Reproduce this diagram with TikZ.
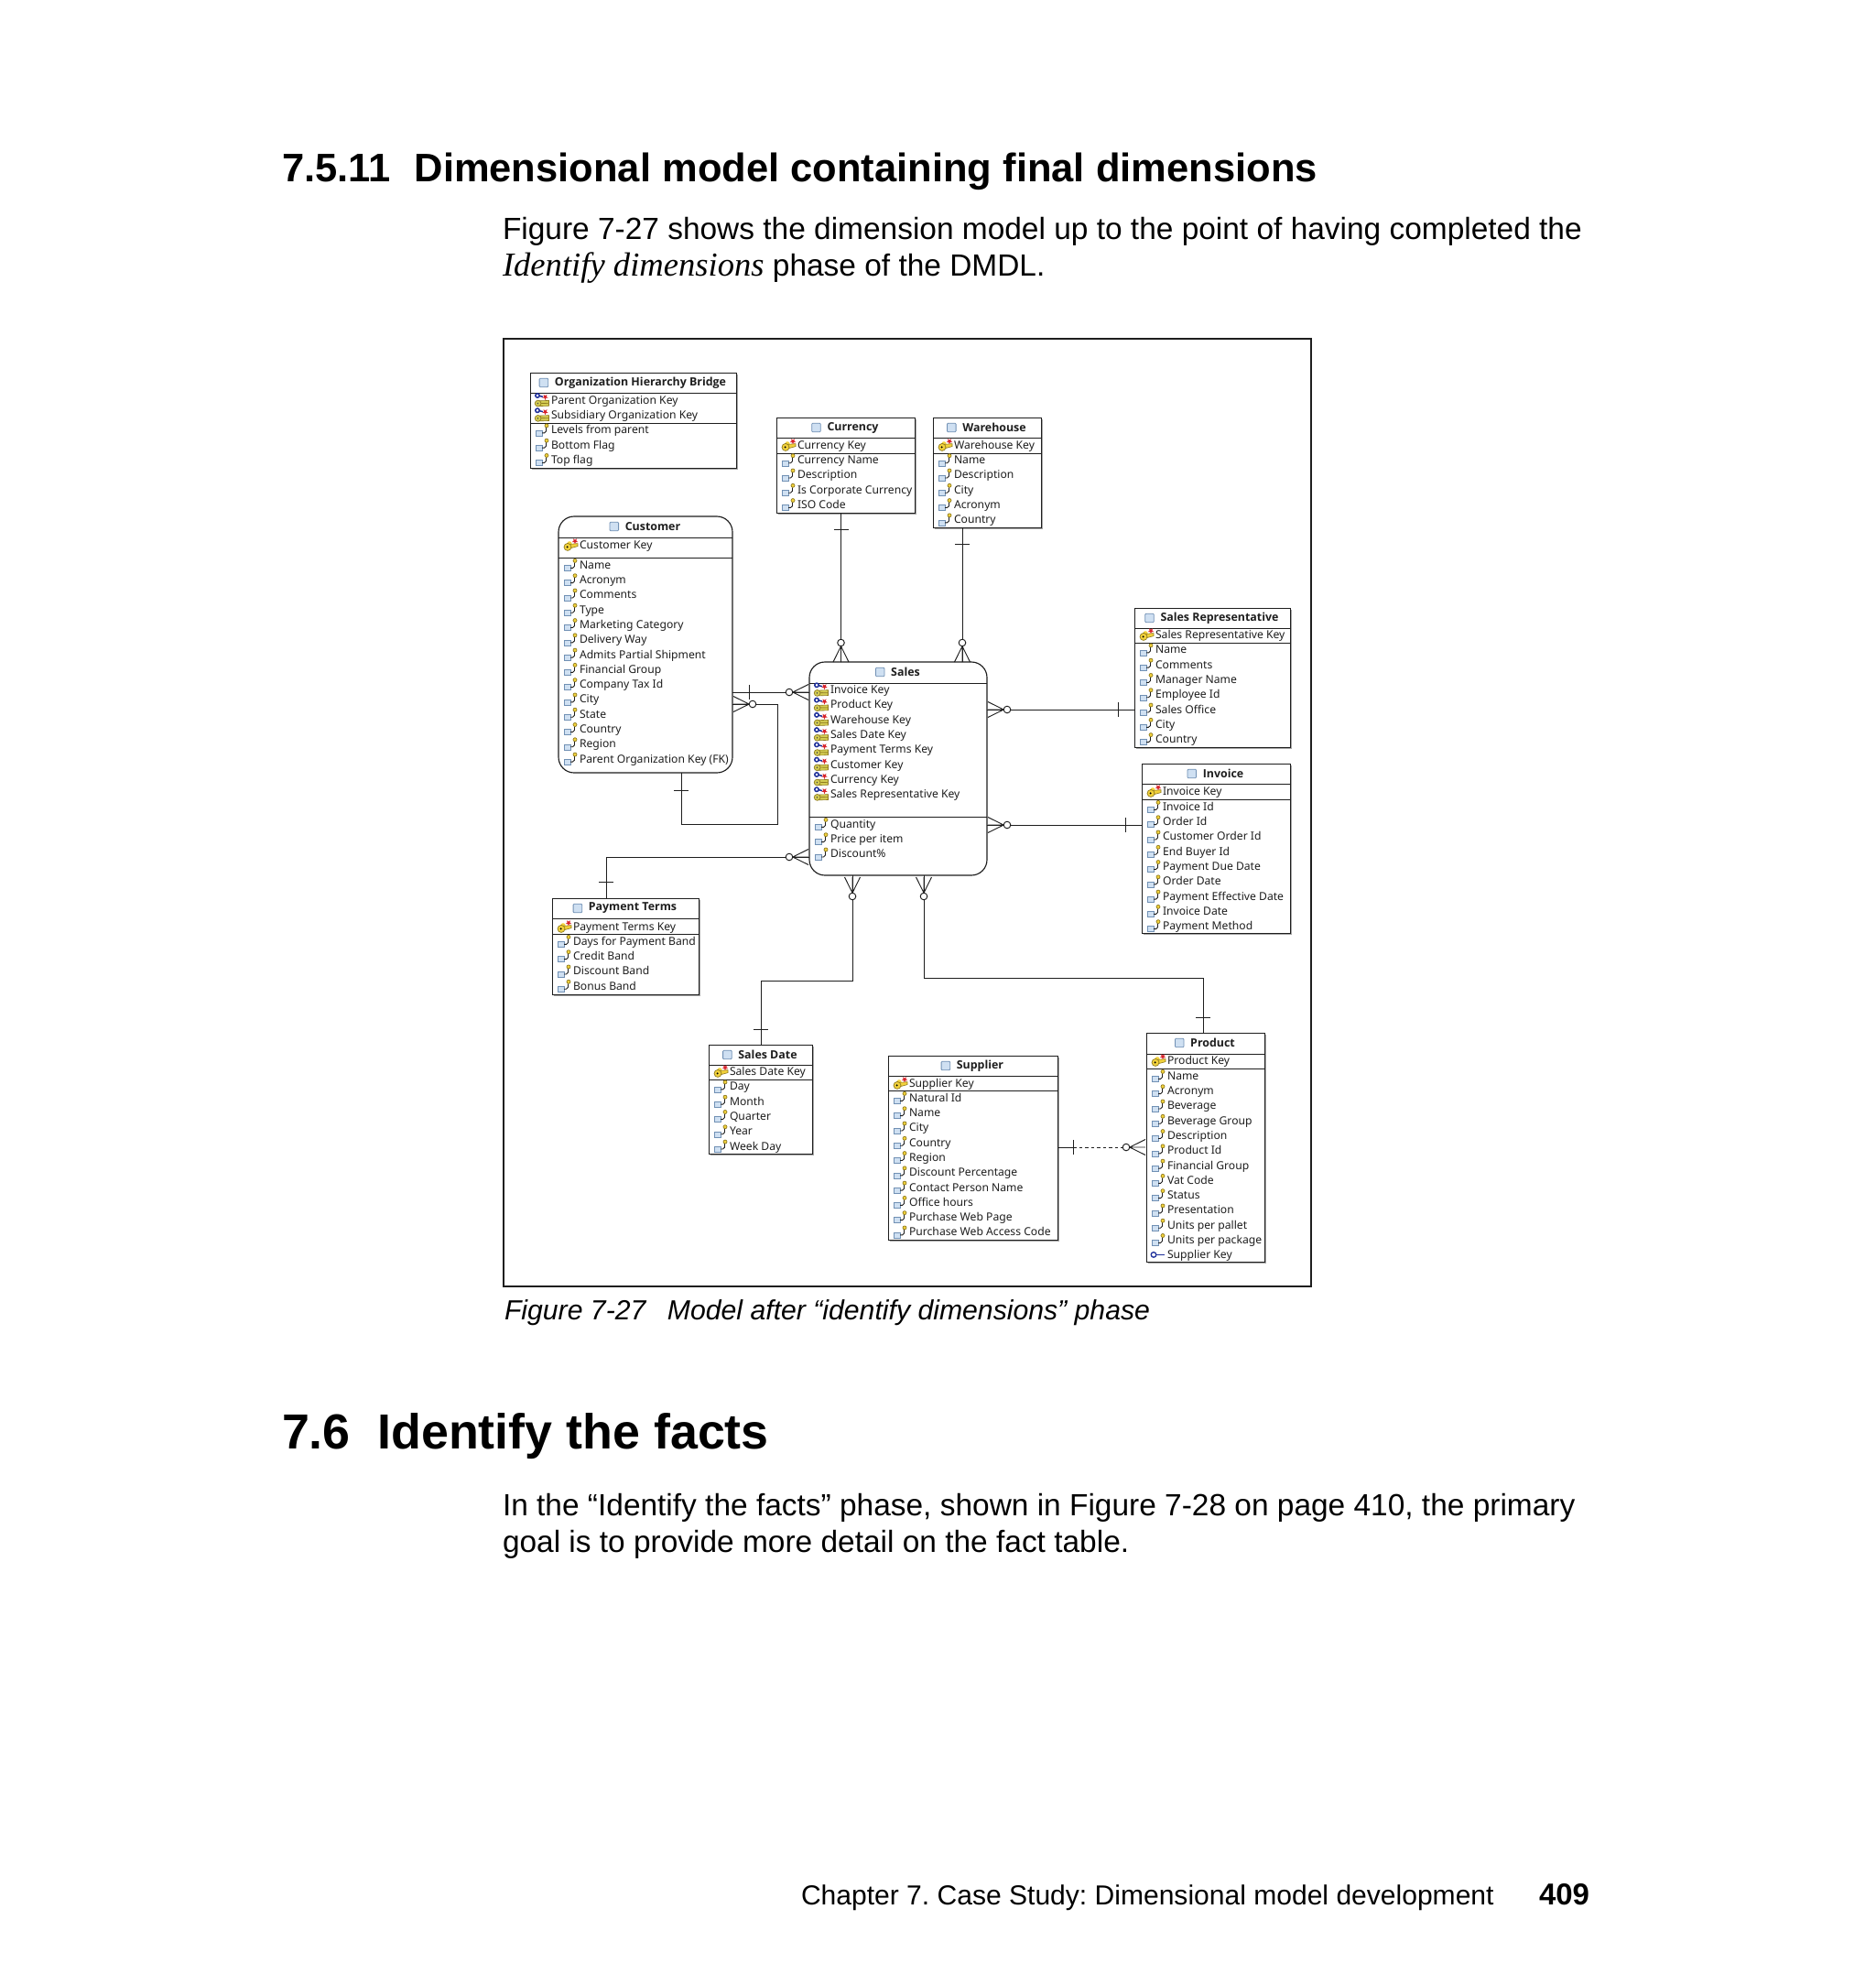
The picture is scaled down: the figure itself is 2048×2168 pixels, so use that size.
\documentclass[tikz,border=0pt]{standalone}
\usepackage{fontspec}
\usetikzlibrary{calc}
\setmainfont{Liberation Sans}
\newfontfamily\serifface{Liberation Serif}
\newfontfamily\tblface{Noto Sans}
\newfontfamily\tblbold{Open Sans}
\definecolor{ink}{HTML}{1E1E1E}
\definecolor{iconblue}{HTML}{CFE0F2}
\definecolor{iconedge}{HTML}{7090B4}
\definecolor{gold}{HTML}{F2D23C}
\definecolor{goldedge}{HTML}{8F7A1E}
\definecolor{olive}{HTML}{D3CC52}
\definecolor{keyblue}{HTML}{1E2F9A}
\definecolor{starred}{HTML}{D8232A}
\def\plainname{plainbox}
\tikzset{
  x=1pt,y=-1pt,
  tblbase/.style={draw=ink,fill=white,inner sep=0pt,outer sep=0pt,anchor=north west},
  plainbox/.style={tblbase,line width=1pt},
  roundbox/.style={tblbase,line width=1.15pt,rounded corners=17pt},
  shadowline/.style={draw=black!35,line width=1.4pt},
  sepline/.style={draw=ink,line width=1pt},
  rowtext/.style={inner sep=0pt,outer sep=0pt,anchor=base west,text=ink,font=\tblface\fontsize{12.15}{14}\selectfont},
  titletext/.style={inner sep=0pt,outer sep=0pt,anchor=center,text=ink,font=\tblbold\bfseries\fontsize{12.4}{14}\selectfont},
  conn/.style={draw=ink,line width=.95pt},
  dashconn/.style={conn,dash pattern=on 3.5pt off 3pt},
  page/.style={inner sep=0pt,outer sep=0pt,anchor=base west,text=black},
  attricon/.pic={
    \draw[draw=iconedge,fill=iconblue,line width=.8pt] (6,.6) rectangle (13,6.6);
    \draw[ink,line width=.9pt] (13,3.4) -- (15.5,3.4) -- (17.5,1.5) -- (17.5,-2.6);
    \draw[draw=goldedge,fill=gold,line width=.7pt] (18,-4.6) circle (2);
  },
  rstar/.pic={
    \fill[starred] (90:3.4)--(126:1.4)--(162:3.4)--(198:1.4)--(234:3.4)--(270:1.4)--(306:3.4)--(342:1.4)--(18:3.4)--(54:1.4)--cycle;
  },
  pkicon/.pic={
    \fill[gold] (12,-1.2) circle (2.6);
    \draw[goldedge,fill=gold,line width=.6pt] (12,-.6) -- (21,-1.4) -- (21,1.6) -- (12,4) -- cycle;
    \draw[goldedge,fill=gold,line width=.7pt] (10,2.4) circle (4);
    \fill[black] (9.6,2.4) circle (1.1);
    \pic at (18,-4) {rstar};
  },
  pficon/.pic={
    \draw[keyblue,line width=1.5pt] (8,-5) circle (2.2) (10.2,-4.6) -- (14,-3.6);
    \pic at (16.5,-3.4) {rstar};
    \draw[goldedge,fill=olive,line width=.6pt] (10,.8) -- (20.5,.4) -- (20.5,3.4) -- (10,3.4) -- cycle;
    \draw[goldedge,fill=olive,line width=.6pt] (10,3.4) -- (20.5,3.6) -- (20.5,6.2) -- (10,6.6) -- cycle;
    \draw[goldedge,fill=olive,line width=.7pt] (8.6,3.6) circle (3.4);
    \fill[black!70] (8.4,3.6) circle (.9);
  },
  fkicon/.pic={
    \draw[keyblue,line width=1.3pt,fill=white] (8,0) circle (2.8);
    \draw[keyblue,line width=1.2pt] (10.8,0) -- (20,0);
  },
  tblglyph/.pic={
    \draw[draw=iconedge,fill=iconblue,line width=.8pt,rounded corners=1pt] (-4.8,-4.8) rectangle (4.8,4.8);
  },
  crow/.pic={
    \draw[conn] (3.8,0) -- (21,-8.5) (3.8,0) -- (21,8.5) (3.8,0) -- (21,0);
    \draw[conn,fill=white] (0,0) circle (3.8);
  },
  bar/.pic={\draw[conn] (0,-8) -- (0,8);},
}
% name, style, x1, y1, x2, y2, sep1, sep2, title
\newcommand{\enttable}[9]{%
  \pgfmathsetmacro{\tw}{#5-#3}\pgfmathsetmacro{\th}{#6-#4}%
  \pgfmathsetmacro{\tc}{(#3+#5)/2+8}\pgfmathsetmacro{\ty}{#4+11}%
  \node[#2,minimum width=\tw pt,minimum height=\th pt] (#1) at (#3,#4) {};
  \def\tmpstyle{#2}%
  \ifx\tmpstyle\plainname
    \draw[shadowline] ($(#1.south west)+(2,1.3)$) -- ($(#1.south east)+(1.3,1.3)$) -- ($(#1.north east)+(1.3,2)$);
  \fi
  \draw[sepline] (#1.west |- 0,#7) -- (#1.east |- 0,#7);
  \draw[sepline] (#1.west |- 0,#8) -- (#1.east |- 0,#8);
  \node[titletext] (#1-title) at (\tc,\ty) {#9};
  \pic at ($(#1-title.west)+(-12,0)$) {tblglyph};
}
% table name, row prefix, y of the first row, icon, list
\newcommand{\entrows}[5]{%
  \foreach \t [count=\i from 0] in {#5} {%
    \pgfmathsetmacro{\ry}{#3+\i*16.28}%
    \pgfmathsetmacro{\by}{\ry+4.4}%
    \pic at (#1.west |- 0,\ry) {#4};
    \node[rowtext] (#1-#2\i) at ($(#1.west |- 0,\by)+(23,0)$) {\t};
  }%
}
\begin{document}
\frenchspacing
\begin{tikzpicture}
\useasboundingbox (0,0) rectangle (2048,2168);
% page text
\node[page,font=\bfseries\fontsize{43.5}{48}\selectfont] (h1) at (308,198) {7.5.11\hspace{.6em}Dimensional model containing final dimensions};
\node[page,font=\fontsize{33.45}{40}\selectfont] (p1a) at (549,261) {Figure 7-27 shows the dimension model up to the point of having completed the};
\node[page,font=\fontsize{33.45}{40}\selectfont] (p1b) at (549,301) {{\serifface\itshape\fontsize{36.6}{40}\selectfont Identify dimensions} phase of the DMDL.};
\node[page,font=\itshape\fontsize{30.2}{36}\selectfont] (cap) at (551,1441) {Figure 7-27\hspace{.78em}Model after “identify dimensions” phase};
\node[page,font=\bfseries\fontsize{53.8}{60}\selectfont] (h2) at (308,1582) {7.6\hspace{.55em}Identify the facts};
\node[page,font=\fontsize{33.45}{40}\selectfont] (p2a) at (549,1655) {In the “Identify the facts” phase, shown in Figure 7-28 on page 410, the primary};
\node[page,font=\fontsize{33.45}{40}\selectfont] (p2b) at (549,1695) {goal is to provide more detail on the fact table.};
\node[page,font=\fontsize{30.05}{36}\selectfont] (foot) at (875,2080.5) {Chapter 7. Case Study: Dimensional model development};
\node[page,font=\bfseries\fontsize{33}{40}\selectfont] (pnum) at (1681,2080.5) {409};
% figure frame
\node[draw=ink,line width=2pt,inner sep=0pt,outer sep=0pt,anchor=north west,minimum width=882pt,minimum height=1035pt] (frame) at (550,369.5) {};
% helper coordinates of connector routes
\coordinate (cxcur) at (918.5,0);
\coordinate (cxwh) at (1051,0);
\coordinate (cycust) at (0,756);
\coordinate (cxself) at (744,0);
\coordinate (cself) at (849,900);
\coordinate (cyself) at (0,769);
\coordinate (cyrep) at (0,775);
\coordinate (cyinv) at (0,901);
\coordinate (cypay) at (0,936);
\coordinate (cxpay) at (662,0);
\coordinate (cxdate) at (931,0);
\coordinate (cdatea) at (931,1071);
\coordinate (cdateb) at (831,1071);
\coordinate (cxprod) at (1009,0);
\coordinate (cproda) at (1009,1068);
\coordinate (cprodb) at (1314,1068);
\coordinate (cysup) at (0,1253);
\coordinate (cbarsup) at (1172,1253);
\coordinate (ccirc) at (1230,1253);
% tables
\enttable{org}{plainbox}{579}{407}{804}{511}{429}{462}{Organization Hierarchy Bridge}
\entrows{org}{k}{437}{pficon}{Parent Organization Key,Subsidiary Organization Key}
\entrows{org}{a}{469.5}{attricon}{Levels from parent,Bottom Flag,Top flag}
\enttable{currency}{plainbox}{848}{456}{999}{560}{478}{495}{Currency}
\entrows{currency}{k}{486}{pkicon}{Currency Key}
\entrows{currency}{a}{502.3}{attricon}{Currency Name,Description,Is Corporate Currency,ISO Code}
\enttable{warehouse}{plainbox}{1019}{456}{1137}{576}{478}{495}{Warehouse}
\entrows{warehouse}{k}{486}{pkicon}{Warehouse Key}
\entrows{warehouse}{a}{502.3}{attricon}{Name,Description,City,Acronym,Country}
\enttable{customer}{roundbox}{610}{564}{800}{844}{587}{609}{Customer}
\entrows{customer}{k}{595}{pkicon}{Customer Key}
\entrows{customer}{a}{617}{attricon}{Name,Acronym,Comments,Type,Marketing Category,Delivery Way,Admits Partial Shipment,Financial Group,Company Tax Id,City,State,Country,Region,Parent Organization Key (FK)}
\enttable{sales}{roundbox}{884}{723}{1078}{956}{746}{892}{Sales}
\entrows{sales}{k}{753.3}{pficon}{Invoice Key,Product Key,Warehouse Key,Sales Date Key,Payment Terms Key,Customer Key,Currency Key,Sales Representative Key}
\entrows{sales}{a}{900}{attricon}{Quantity,Price per item,Discount\%}
\enttable{rep}{plainbox}{1239}{664}{1409}{816}{686}{702}{Sales Representative}
\entrows{rep}{k}{693}{pkicon}{Sales Representative Key}
\entrows{rep}{a}{709.5}{attricon}{Name,Comments,Manager Name,Employee Id,Sales Office,City,Country}
\enttable{invoice}{plainbox}{1247}{834}{1409}{1019}{856}{873}{Invoice}
\entrows{invoice}{k}{864}{pkicon}{Invoice Key}
\entrows{invoice}{a}{881}{attricon}{Invoice Id,Order Id,Customer Order Id,End Buyer Id,Payment Due Date,Order Date,Payment Effective Date,Invoice Date,Payment Method}
\enttable{payment}{plainbox}{603}{981}{763}{1086}{1003}{1020}{Payment Terms}
\entrows{payment}{k}{1012}{pkicon}{Payment Terms Key}
\entrows{payment}{a}{1028}{attricon}{Days for Payment Band,Credit Band,Discount Band,Bonus Band}
\enttable{date}{plainbox}{774}{1141}{887}{1260}{1163}{1179}{Sales Date}
\entrows{date}{k}{1170}{pkicon}{Sales Date Key}
\entrows{date}{a}{1186.5}{attricon}{Day,Month,Quarter,Year,Week Day}
\enttable{supplier}{plainbox}{970}{1153}{1155}{1354}{1175}{1191}{Supplier}
\entrows{supplier}{k}{1183}{pkicon}{Supplier Key}
\entrows{supplier}{a}{1199}{attricon}{Natural Id,Name,City,Country,Region,Discount Percentage,Contact Person Name,Office hours,Purchase Web Page,Purchase Web Access Code}
\enttable{product}{plainbox}{1252}{1128}{1381}{1378}{1151}{1167}{Product}
\entrows{product}{k}{1158}{pkicon}{Product Key}
\entrows{product}{a}{1175}{attricon}{Name,Acronym,Beverage,Beverage Group,Description,Product Id,Financial Group,Vat Code,Status,Presentation,Units per pallet,Units per package}
\entrows{product}{f}{1370.4}{fkicon}{Supplier Key}
% connectors
\draw[conn] (currency.south -| cxcur) -- (sales.north -| cxcur);
\pic at (cxcur |- 0,578) [rotate=90] {bar};
\pic at (cxcur |- 0,702) [rotate=-90] {crow};
\draw[conn] (warehouse.south -| cxwh) -- (sales.north -| cxwh);
\pic at (cxwh |- 0,594) [rotate=90] {bar};
\pic at (cxwh |- 0,702) [rotate=-90] {crow};
\draw[conn] (customer.east |- cycust) -- (sales.west |- cycust);
\pic at (818,756) {bar};
\pic at (862,756) {crow};
\draw[conn] (customer.south -| cxself) |- (cself) |- (customer.east |- cyself);
\pic at (cxself |- 0,863) [rotate=90] {bar};
\pic at (822,769) [rotate=180] {crow};
\draw[conn] (sales.east |- cyrep) -- (rep.west |- cyrep);
\pic at (1221,775) {bar};
\pic at (1100,775) [rotate=180] {crow};
\draw[conn] (sales.east |- cyinv) -- (invoice.west |- cyinv);
\pic at (1229,901) {bar};
\pic at (1100,901) [rotate=180] {crow};
\draw[conn] (sales.west |- cypay) -| (payment.north -| cxpay);
\pic at (cxpay |- 0,963) [rotate=90] {bar};
\pic at (862,936) {crow};
\draw[conn] (sales.south -| cxdate) -- (cdatea) -- (cdateb) -- (date.north -| cdateb);
\pic at (cdateb |- 0,1124) [rotate=90] {bar};
\pic at (cxdate |- 0,979) [rotate=90] {crow};
\draw[conn] (sales.south -| cxprod) -- (cproda) -- (cprodb) -- (product.north -| cprodb);
\pic at (cprodb |- 0,1111) [rotate=90] {bar};
\pic at (cxprod |- 0,979) [rotate=90] {crow};
\draw[conn] (supplier.east |- cysup) -- (cbarsup);
\draw[dashconn] (cbarsup) -- (ccirc);
\pic at (cbarsup) {bar};
\pic at (ccirc) {crow};
\end{tikzpicture}
\end{document}
